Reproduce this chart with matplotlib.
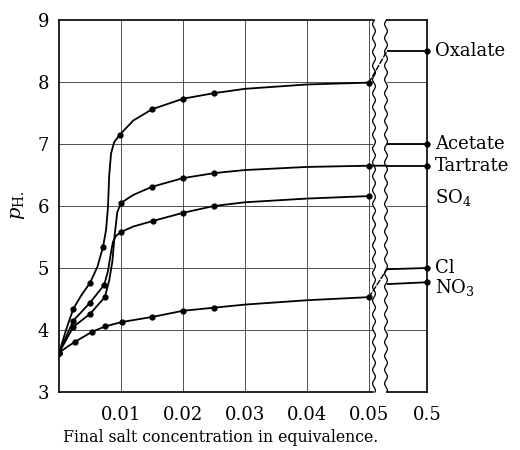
import numpy as np
import matplotlib
matplotlib.use("Agg")
import matplotlib.pyplot as plt
from matplotlib.lines import Line2D
from matplotlib.patches import ConnectionPatch

plt.rcParams['font.family'] = ['DejaVu Serif']
plt.rcParams['mathtext.fontset'] = 'dejavuserif'

# measured points (dots) on the left, expanded-scale panel
oxalate_x = [0.0, 0.0023, 0.005, 0.0071, 0.0098, 0.015, 0.02, 0.025, 0.05]
oxalate_y = [3.63, 4.34, 4.76, 5.34, 7.15, 7.56, 7.73, 7.82, 7.99]
tartrate_x = [0.0, 0.0023, 0.005, 0.0074, 0.0100, 0.015, 0.02, 0.025, 0.05]
tartrate_y = [3.63, 4.05, 4.26, 4.53, 6.05, 6.31, 6.45, 6.53, 6.65]
so4_x = [0.0, 0.0023, 0.005, 0.0073, 0.0100, 0.0152, 0.02, 0.025, 0.05]
so4_y = [3.63, 4.15, 4.44, 4.73, 5.58, 5.76, 5.89, 6.00, 6.16]
cl_x = [0.0, 0.0026, 0.0053, 0.0075, 0.0102, 0.015, 0.02, 0.025, 0.05]
cl_y = [3.63, 3.81, 3.97, 4.06, 4.13, 4.21, 4.31, 4.36, 4.53]

# curve traces (line only)
oxalate_tx = [0.0, 0.0012, 0.0023, 0.0036, 0.005, 0.0062, 0.0071, 0.0076, 0.0079,
              0.0081, 0.0084, 0.0089, 0.0098, 0.012, 0.015, 0.02, 0.025, 0.03, 0.04, 0.05]
oxalate_ty = [3.63, 4.02, 4.34, 4.56, 4.76, 5.02, 5.34, 5.62, 5.98,
              6.5, 6.85, 7.03, 7.15, 7.38, 7.56, 7.73, 7.82, 7.89, 7.96, 7.99]
tartrate_tx = [0.0, 0.0023, 0.005, 0.0074, 0.0081, 0.0086, 0.009, 0.0094, 0.01,
               0.012, 0.015, 0.02, 0.025, 0.03, 0.04, 0.05]
tartrate_ty = [3.63, 4.05, 4.26, 4.53, 4.8, 5.1, 5.55, 5.9, 6.05,
               6.18, 6.31, 6.45, 6.53, 6.58, 6.63, 6.65]
so4_tx = [0.0, 0.0023, 0.005, 0.0073, 0.0079, 0.0083, 0.0087, 0.0092, 0.01,
          0.012, 0.0152, 0.02, 0.025, 0.03, 0.04, 0.05]
so4_ty = [3.63, 4.15, 4.44, 4.73, 4.95, 5.2, 5.42, 5.52, 5.58,
          5.67, 5.76, 5.89, 6.00, 6.06, 6.12, 6.16]
cl_tx = [0.0, 0.0012, 0.0026, 0.0053, 0.0075, 0.0102, 0.015, 0.02, 0.025, 0.03, 0.04, 0.05]
cl_ty = [3.63, 3.72, 3.81, 3.97, 4.06, 4.13, 4.21, 4.31, 4.36, 4.41, 4.48, 4.53]

# right panel (0.5 equivalent): value at the break and at 0.5
right_names = ['Oxalate', 'Acetate', 'Tartrate', 'Cl', 'NO$_3$']
right_start = [8.5, 7.0, 6.65, 4.98, 4.74]
right_end = [8.5, 7.0, 6.65, 5.0, 4.77]
so4_label = 'SO$_4$'

x_ticks = [0.01, 0.02, 0.03, 0.04, 0.05]
x_ticklabels = ['0.01', '0.02', '0.03', '0.04', '0.05']
y_ticks = [3, 4, 5, 6, 7, 8, 9]
right_tick = 0.5

W, H = 520, 450
fig = plt.figure(figsize=(W / 100, H / 100), dpi=100)

def fx(px):
    return px / W

def fy(py):
    return 1 - py / H

ax1 = fig.add_axes([fx(59), fy(392), fx(373) - fx(59), fy(20) - fy(392)])
ax2 = fig.add_axes([fx(387), fy(392), fx(427) - fx(387), fy(20) - fy(392)])

ax1.set_xlim(0, 0.05065)
ax2.set_xlim(0.45, 0.5)
grid_kw = dict(color='#333333', lw=0.6, zorder=1)
for ax in (ax1, ax2):
    ax.set_ylim(3, 9)
    ax.set_yticks(y_ticks)
    for y in y_ticks[1:-1]:
        ax.axhline(y, **grid_kw)
    ax.tick_params(length=0, labelsize=13)
ax1.spines['right'].set_visible(False)
ax2.spines['left'].set_visible(False)
for ax in (ax1, ax2):
    for s in ax.spines.values():
        s.set_linewidth(1.2)

for x in x_ticks:
    ax1.axvline(x, **grid_kw)
ax1.set_xticks(x_ticks)
ax1.set_xticklabels(x_ticklabels)
ax1.tick_params(axis='x', pad=10)
ax1.tick_params(axis='y', pad=7)
ax2.set_xticks([right_tick])
ax2.set_xticklabels([str(right_tick)])
ax2.tick_params(axis='x', pad=10)
ax2.set_yticklabels([])

line_kw = dict(color='black', lw=1.3, zorder=3)
dot_kw = dict(color='black', marker='o', ms=3.5, ls='none', zorder=4)
for tx, ty, mx, my in [(oxalate_tx, oxalate_ty, oxalate_x, oxalate_y),
                       (tartrate_tx, tartrate_ty, tartrate_x, tartrate_y),
                       (so4_tx, so4_ty, so4_x, so4_y),
                       (cl_tx, cl_ty, cl_x, cl_y)]:
    ax1.plot(tx, ty, **line_kw)
    ax1.plot(mx, my, **dot_kw)

x0 = ax2.get_xlim()[0]
for s, e in zip(right_start, right_end):
    ax2.plot([x0, right_tick], [s, e], **line_kw)
    ax2.plot([right_tick], [e], clip_on=False, **dot_kw)

# connectors across the break
joins = [(oxalate_y[-1], right_start[0], '--'),
         (tartrate_y[-1], right_start[2], '-'),
         (cl_y[-1], right_start[3], '--')]
for ya, yb, ls in joins:
    con = ConnectionPatch(xyA=(oxalate_x[-1], ya), coordsA=ax1.transData,
                          xyB=(x0, yb), coordsB=ax2.transData,
                          color='black', lw=1.0 if ls == '--' else 1.3, ls=ls)
    fig.add_artist(con)

# wavy break lines
t = np.linspace(20, 392, 400)
for xp in (374, 386):
    wx = xp + 1.4 * np.sin(t / 2.2)
    fig.add_artist(Line2D(fx(wx), fy(t), color='black', lw=0.9))

# labels on the right
for name, e in zip(right_names, right_end):
    dy = -0.08 if name.startswith('NO') else 0
    fig.text(fx(435), ax2.transData.transform((0, e + dy))[1] / H, name,
             fontsize=13, va='center', ha='left')
fig.text(fx(435), ax1.transData.transform((0, so4_y[-1] - 0.03))[1] / H, so4_label,
         fontsize=13, va='center', ha='left')

fig.text(fx(18), fy(205), r'$p_{\mathrm{H.}}$', rotation=90, fontsize=14,
         ha='center', va='center')
fig.text(fx(221), fy(437), 'Final salt concentration in equivalence.',
         fontsize=11.3, ha='center', va='center')

fig.savefig('out.png', dpi=100)
